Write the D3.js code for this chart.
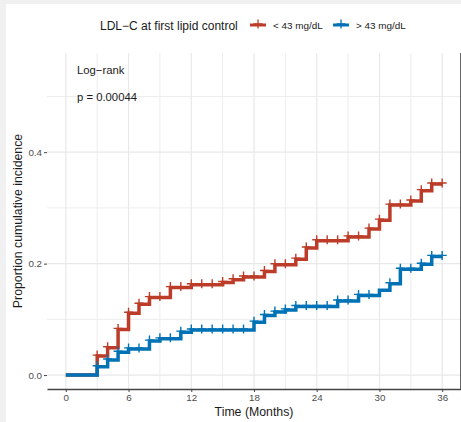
<!DOCTYPE html>
<html>
<head>
<meta charset="utf-8">
<script src="https://cdn.jsdelivr.net/npm/d3@7"></script>
<style>
  body { margin: 0; background: #fff; }
  svg text { font-family: "Liberation Sans", Arial, sans-serif; }
</style>
</head>
<body>
<div id="chart"></div>
<script>
var width = 461;
var height = 422;

// step times (months) and cumulative incidence per group
var lowTime = [0, 3, 4, 5, 6, 7, 8, 10, 12, 15, 16, 17, 19, 20, 22, 23, 24, 27, 29, 30, 31, 33, 34, 35, 36];
var lowInc = [0, 0.034, 0.049, 0.082, 0.111, 0.127, 0.139, 0.157, 0.162, 0.166, 0.171, 0.176, 0.186, 0.198, 0.208, 0.228, 0.241, 0.248, 0.262, 0.278, 0.305, 0.3125, 0.331, 0.343, 0.343];
var lowCensor = [3, 4, 5, 6, 7, 8, 9, 10, 11, 12, 13, 14, 15, 16, 17, 18, 19, 20, 21, 22, 23, 24, 25, 26, 27, 28, 29, 30, 31, 32, 33, 34, 35, 36];

var highTime = [0, 3, 4, 5, 6, 8, 9, 11, 12, 18, 19, 20, 21, 22, 26, 28, 30, 31, 32, 34, 35, 36];
var highInc = [0, 0.015, 0.027, 0.041, 0.047, 0.061, 0.065, 0.077, 0.081, 0.095, 0.107, 0.113, 0.117, 0.123, 0.133, 0.143, 0.152, 0.164, 0.19, 0.199, 0.213, 0.213];
var highCensor = [3, 4, 5, 6, 7, 8, 9, 10, 11, 12, 13, 14, 15, 16, 17, 18, 19, 20, 21, 22, 23, 24, 25, 26, 27, 28, 29, 31, 32, 33, 34, 35, 36];

var xTicks = [0, 6, 12, 18, 24, 30, 36];
var xMinor = [3, 9, 15, 21, 27, 33];
var yTicks = [0, 0.2, 0.4];
var yMinor = [0.1, 0.3, 0.5];

var groups = [
    {label: "< 43 mg/dL", color: "#BC3C29", time: lowTime, inc: lowInc, censor: lowCensor},
    {label: "> 43 mg/dL", color: "#0072B5", time: highTime, inc: highInc, censor: highCensor}
];

var panel = {left: 47, right: 461, top: 53, bottom: 389};

var svg = d3.select("#chart").append("svg")
    .attr("width", width)
    .attr("height", height);

svg.append("rect").attr("width", width).attr("height", height).attr("fill", "#fff");
// grey frame strips of the screenshot
svg.append("rect").attr("width", width).attr("height", 4).attr("fill", "#f0f0f0");
svg.append("rect").attr("width", 6).attr("height", height).attr("fill", "#f0f0f0");

var x = d3.scaleLinear().domain([-1.8, 37.8]).range([panel.left, panel.right]);
var y = d3.scaleLinear().domain([-0.025, 0.578]).range([panel.bottom, panel.top]);

// grid
var grid = svg.append("g");
grid.selectAll(".vmin").data(xMinor).enter().append("line")
    .attr("x1", d => x(d)).attr("x2", d => x(d))
    .attr("y1", panel.top).attr("y2", panel.bottom)
    .attr("stroke", "#ededed").attr("stroke-width", 1);
grid.selectAll(".hmin").data(yMinor).enter().append("line")
    .attr("x1", panel.left).attr("x2", panel.right)
    .attr("y1", d => y(d)).attr("y2", d => y(d))
    .attr("stroke", "#ededed").attr("stroke-width", 1);
grid.selectAll(".vmaj").data(xTicks).enter().append("line")
    .attr("x1", d => x(d)).attr("x2", d => x(d))
    .attr("y1", panel.top).attr("y2", panel.bottom)
    .attr("stroke", "#e8e8e8").attr("stroke-width", 1.2);
grid.selectAll(".hmaj").data(yTicks).enter().append("line")
    .attr("x1", panel.left).attr("x2", panel.right)
    .attr("y1", d => y(d)).attr("y2", d => y(d))
    .attr("stroke", "#e8e8e8").attr("stroke-width", 1.2);

// right edge line
svg.append("line")
    .attr("x1", 460.5).attr("x2", 460.5)
    .attr("y1", panel.top).attr("y2", panel.bottom)
    .attr("stroke", "#666").attr("stroke-width", 1);

// curves
var line = d3.line()
    .x(d => x(d[0]))
    .y(d => y(d[1]))
    .curve(d3.curveStepAfter);

groups.forEach(g => {
    var pts = g.time.map((t, i) => [t, g.inc[i]]);
    svg.append("path")
        .datum(pts)
        .attr("d", line)
        .attr("fill", "none")
        .attr("stroke", g.color)
        .attr("stroke-width", 3.5);
});

// censor marks
var bis = d3.bisector(d => d).right;
groups.forEach(g => {
    var marks = svg.append("g");
    g.censor.forEach(t => {
        var v = g.inc[bis(g.time, t) - 1];
        var cx = x(t), cy = y(v) - 1;
        marks.append("path")
            .attr("d", `M${cx - 4.5},${cy}H${cx + 4.5}M${cx},${cy - 4.5}V${cy + 4.5}`)
            .attr("stroke", g.color)
            .attr("stroke-width", 1.4)
            .attr("fill", "none");
    });
});

// x axis
var xAxis = svg.append("g")
    .attr("transform", `translate(0,${panel.bottom})`)
    .call(d3.axisBottom(x).tickValues(xTicks).tickSize(3).tickPadding(2).tickSizeOuter(0));
xAxis.select(".domain").attr("stroke", "#444").attr("stroke-width", 1.3);
xAxis.selectAll(".tick line").attr("stroke", "#444");
xAxis.selectAll("text").attr("fill", "#4d4d4d").style("font-size", "9.8px");

// y axis (ticks only)
var yAxis = svg.append("g")
    .attr("transform", `translate(${panel.left},0)`)
    .call(d3.axisLeft(y).tickValues(yTicks).tickFormat(d3.format(".1f")).tickSize(3).tickPadding(2));
yAxis.select(".domain").remove();
yAxis.selectAll(".tick line").attr("stroke", "#444");
yAxis.selectAll("text").attr("fill", "#4d4d4d").style("font-size", "9.8px");

// axis titles
svg.append("text")
    .attr("x", (panel.left + panel.right) / 2)
    .attr("y", 416)
    .attr("text-anchor", "middle")
    .style("font-size", "12.3px")
    .attr("fill", "#1a1a1a")
    .text("Time (Months)");

svg.append("text")
    .attr("transform", `translate(22,${(panel.top + panel.bottom) / 2}) rotate(-90)`)
    .attr("text-anchor", "middle")
    .style("font-size", "12.3px")
    .attr("fill", "#1a1a1a")
    .text("Proportion cumulative incidence");

// log-rank annotation
svg.append("text").attr("x", 77).attr("y", 74)
    .style("font-size", "11.3px").attr("fill", "#1a1a1a").text("Log\u2212rank");
svg.append("text").attr("x", 77).attr("y", 101)
    .style("font-size", "11.3px").attr("fill", "#1a1a1a").text("p = 0.00044");

// legend
var legend = svg.append("g");
legend.append("text")
    .attr("x", 100).attr("y", 30)
    .style("font-size", "12px")
    .attr("fill", "#1a1a1a")
    .text("LDL\u2212C at first lipid control");

var keyX = [250, 333];
groups.forEach((g, i) => {
    var k = legend.append("g").attr("transform", `translate(${keyX[i]},25)`);
    k.append("line").attr("x1", 0).attr("x2", 16).attr("y1", 0).attr("y2", 0)
        .attr("stroke", g.color).attr("stroke-width", 3);
    k.append("path").attr("d", "M3.5,-1H12.5M8,-5.5V3.5")
        .attr("stroke", g.color).attr("stroke-width", 1.3);
    k.append("text").attr("x", 23).attr("y", 4)
        .style("font-size", "9.9px").attr("fill", "#1a1a1a")
        .text(g.label);
});
</script>
</body>
</html>
